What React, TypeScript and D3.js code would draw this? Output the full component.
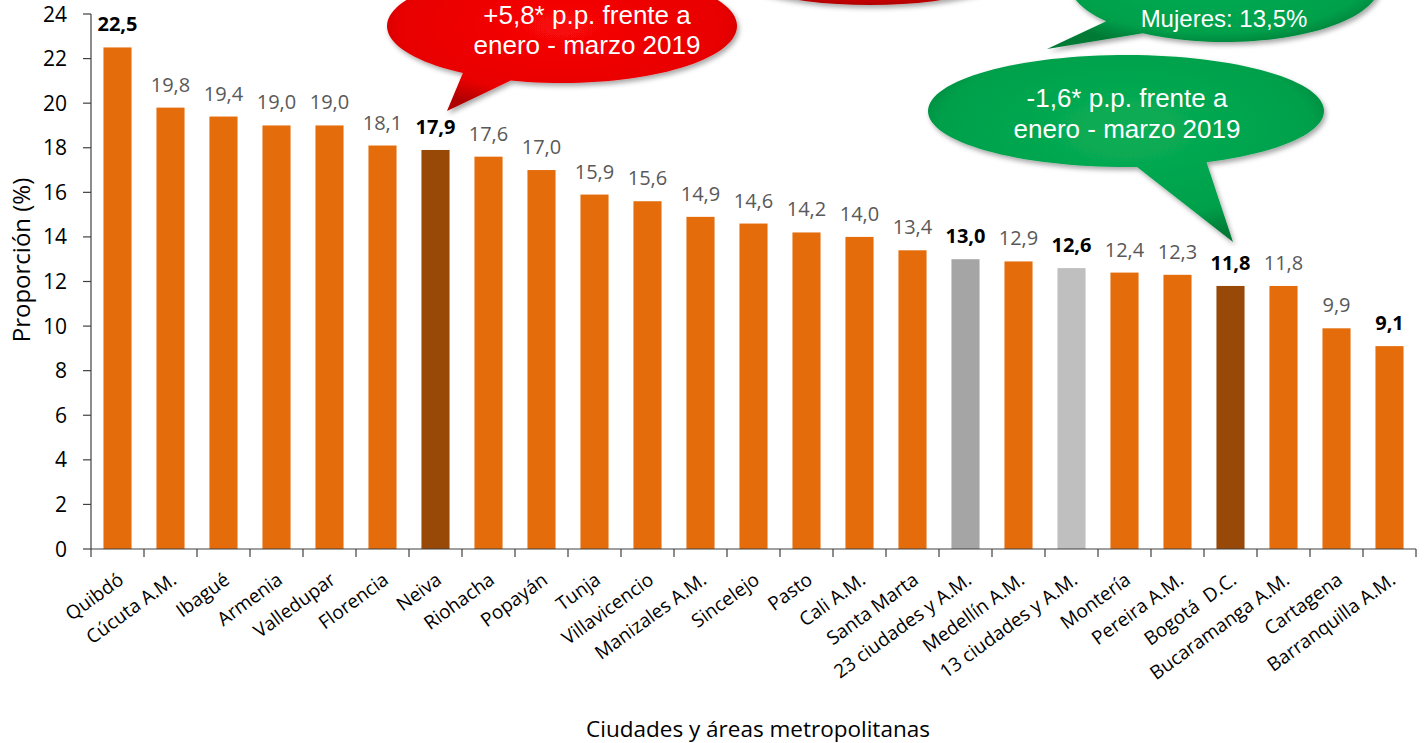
import React from "react";
import * as d3 from "d3";

const categories = [
  "Quibdó", "Cúcuta A.M.", "Ibagué", "Armenia", "Valledupar", "Florencia", "Neiva",
  "Riohacha", "Popayán", "Tunja", "Villavicencio", "Manizales A.M.", "Sincelejo",
  "Pasto", "Cali A.M.", "Santa Marta", "23 ciudades y A.M.", "Medellín A.M.",
  "13 ciudades y A.M.", "Montería", "Pereira A.M.", "Bogotá  D.C.", "Bucaramanga A.M.",
  "Cartagena", "Barranquilla A.M.",
];
const values = [
  22.5, 19.8, 19.4, 19.0, 19.0, 18.1, 17.9, 17.6, 17.0, 15.9, 15.6, 14.9, 14.6,
  14.2, 14.0, 13.4, 13.0, 12.9, 12.6, 12.4, 12.3, 11.8, 11.8, 9.9, 9.1,
];
// bar kind: o = orange, d = dark highlight, g = 23 ciudades, l = 13 ciudades
const kinds = [
  "o", "o", "o", "o", "o", "o", "d", "o", "o", "o", "o", "o", "o",
  "o", "o", "o", "g", "o", "l", "o", "o", "d", "o", "o", "o",
];
const boldLabels = [
  true, false, false, false, false, false, true, false, false, false, false, false, false,
  false, false, false, true, false, true, false, false, true, false, false, true,
];
const yTicks = [0, 2, 4, 6, 8, 10, 12, 14, 16, 18, 20, 22, 24];

const colors: Record<string, string> = {
  o: "#E46C0A",
  d: "#984807",
  g: "#A5A5A5",
  l: "#BFBFBF",
};

const W = 1424;
const H = 743;
const left = 91;
const right = 1416;
const top = 14;
const bottom = 549;

function bubblePath(cx: number, cy: number, rx: number, ry: number, t0: number, t1: number, tip: [number, number]) {
  const pts: [number, number][] = [];
  const n = 120;
  for (let i = 0; i <= n; i++) {
    const t = ((t0 + (t1 - t0) * (i / n)) * Math.PI) / 180;
    pts.push([cx + rx * Math.cos(t), cy + ry * Math.sin(t)]);
  }
  pts.push(tip);
  return d3.line().curve(d3.curveLinearClosed)(pts) || "";
}

export default function App() {
  const x = d3.scaleBand<string>().domain(categories).range([left, right]).paddingInner(0.47).paddingOuter(0.235);
  const xb = d3.scaleBand<string>().domain(categories).range([left, right]);
  const y = d3.scaleLinear().domain([0, 24]).range([bottom, top]);
  const font = "'Open Sans', 'Noto Sans', sans-serif";
  const arial = "'Liberation Sans', Arial, sans-serif";

  const redPath = bubblePath(562, 26, 175, 57, 124.5, 467, [447, 111]);
  const greenPath = bubblePath(1126, 111, 198, 56, 86.8, 426, [1233, 242]);
  const greenTopPath = bubblePath(1225, -16, 155, 58, 140, 482, [1047, 49]);

  return (
    <svg width={W} height={H} style={{ position: "absolute", left: 0, top: 0, background: "#fff" }}>
      <defs>
        <radialGradient id="redG" cx="50%" cy="40%" r="60%">
          <stop offset="0%" stopColor="#f80808" />
          <stop offset="78%" stopColor="#e80000" />
          <stop offset="100%" stopColor="#b00000" />
        </radialGradient>
        <radialGradient id="greenG" cx="50%" cy="40%" r="60%">
          <stop offset="0%" stopColor="#0aae55" />
          <stop offset="78%" stopColor="#00a04b" />
          <stop offset="100%" stopColor="#007a36" />
        </radialGradient>
        <filter id="shadow" x="-20%" y="-20%" width="140%" height="150%">
          <feDropShadow dx="2" dy="3" stdDeviation="2.5" floodColor="#000" floodOpacity="0.35" />
        </filter>
      </defs>

      {/* bars */}
      {categories.map((c, i) => (
        <rect
          key={c}
          x={x(c)}
          y={y(values[i])}
          width={x.bandwidth()}
          height={bottom - y(values[i])}
          fill={colors[kinds[i]]}
        />
      ))}

      {/* value labels */}
      {categories.map((c, i) => (
        <text
          key={"v" + c}
          x={(x(c) as number) + x.bandwidth() / 2}
          y={y(values[i]) - 16}
          textAnchor="middle"
          fontFamily={font}
          fontSize={20}
          fontWeight={boldLabels[i] ? 700 : 400}
          fill={boldLabels[i] ? "#000" : "#595959"}
        >
          {values[i].toFixed(1).replace(".", ",")}
        </text>
      ))}

      {/* y axis */}
      <line x1={left} x2={left} y1={top} y2={bottom} stroke="#404040" strokeWidth={1.2} />
      {yTicks.map((t) => (
        <g key={"y" + t}>
          <line x1={left - 8} x2={left} y1={y(t)} y2={y(t)} stroke="#404040" strokeWidth={1.2} />
          <text x={67} y={y(t)} dy="0.36em" textAnchor="end" fontFamily={font} fontSize={21} fill="#000">
            {t}
          </text>
        </g>
      ))}

      {/* x axis */}
      <line x1={left} x2={right} y1={bottom} y2={bottom} stroke="#404040" strokeWidth={1.2} />
      {categories.map((c) => (
        <line key={"t" + c} x1={xb(c)} x2={xb(c)} y1={bottom} y2={bottom + 8} stroke="#404040" strokeWidth={1.2} />
      ))}
      <line x1={right} x2={right} y1={bottom} y2={bottom + 8} stroke="#404040" strokeWidth={1.2} />
      {categories.map((c) => {
        const cx = (xb(c) as number) + xb.bandwidth() / 2 - 1;
        const cy = bottom + 22;
        return (
          <text
            key={"l" + c}
            x={cx}
            y={cy}
            dy="0.75em"
            textAnchor="end"
            transform={`rotate(-36, ${cx}, ${cy})`}
            fontFamily={font}
            fontSize={19}
            fill="#000"
            style={{ whiteSpace: "pre" }}
          >
            {c}
          </text>
        );
      })}

      {/* axis titles */}
      <text x={22} y={260} transform="rotate(-90, 22, 260)" dy="0.35em" textAnchor="middle" fontFamily={font} fontSize={24} fill="#000">
        Proporción (%)
      </text>
      <text x={758} y={737} textAnchor="middle" fontFamily={font} fontSize={22.5} fill="#000">
        Ciudades y áreas metropolitanas
      </text>

      {/* callouts */}
      <ellipse cx={870} cy={-45} rx={165} ry={50} fill="url(#redG)" filter="url(#shadow)" />
      <path d={redPath} fill="url(#redG)" filter="url(#shadow)" />
      <text x={587} y={24} textAnchor="middle" fontFamily={arial} fontSize={26} fill="#fff">
        +5,8* p.p. frente a
      </text>
      <text x={587} y={54} textAnchor="middle" fontFamily={arial} fontSize={26} fill="#fff">
        enero - marzo 2019
      </text>

      <path d={greenTopPath} fill="url(#greenG)" filter="url(#shadow)" />
      <text x={1224} y={27} textAnchor="middle" fontFamily={arial} fontSize={24} fill="#fff">
        Mujeres: 13,5%
      </text>

      <path d={greenPath} fill="url(#greenG)" filter="url(#shadow)" />
      <text x={1127} y={107} textAnchor="middle" fontFamily={arial} fontSize={26} fill="#fff">
        -1,6* p.p. frente a
      </text>
      <text x={1127} y={138} textAnchor="middle" fontFamily={arial} fontSize={26} fill="#fff">
        enero - marzo 2019
      </text>
    </svg>
  );
}
